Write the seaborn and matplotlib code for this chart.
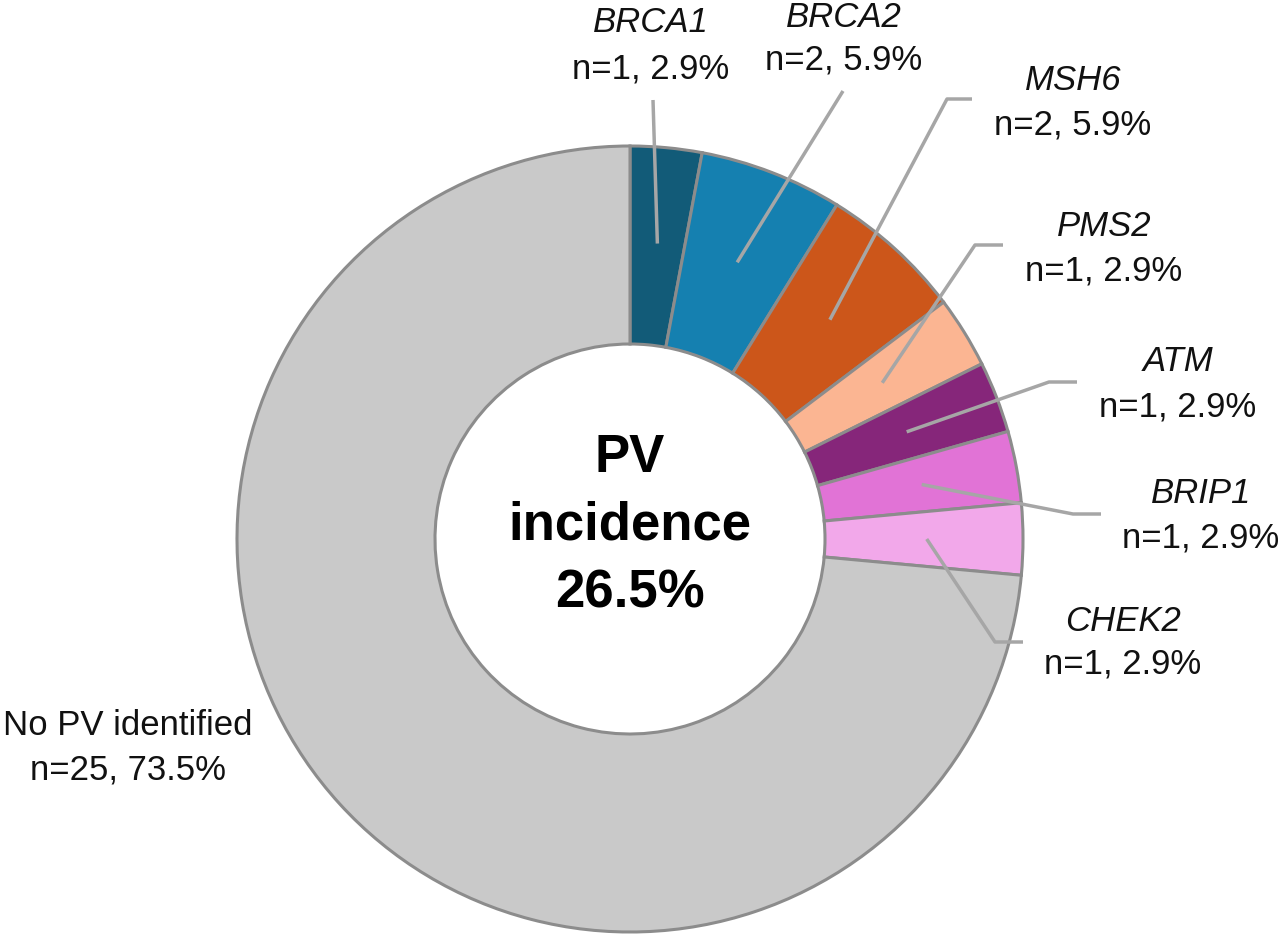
import numpy as np
import seaborn as sns
import matplotlib.pyplot as plt

# data
genes = ['BRCA1', 'BRCA2', 'MSH6', 'PMS2', 'ATM', 'BRIP1', 'CHEK2', 'No PV identified']
counts = [1, 2, 2, 1, 1, 1, 1, 25]
percents = ['2.9%', '5.9%', '5.9%', '2.9%', '2.9%', '2.9%', '2.9%', '73.5%']
colors = ['#125b78', '#1580b0', '#cc561a', '#fbb592', '#86267a', '#e173d6', '#f2a8ea', '#c9c9c9']
center_lines = ['PV', 'incidence', '26.5%']

# layout in pixels (y measured from top)
W, H = 1280, 938
CX, CY = 630, 539
R_OUT, R_IN = 393, 195
# text centre x, baseline of name line, baseline of count line
label_pos = [(651, 32, 78), (844, 27, 69), (1073, 90, 134), (1104, 236, 280),
             (1178, 371, 416), (1201, 503, 547), (1123, 631, 674), (128, 735, 780)]
# leader elbow and end points (None = no line)
leader_pts = [[(653, 100)], [(843, 91)], [(947, 99), (972, 99)], [(975, 245), (1003, 245)],
              [(1049, 382), (1077, 382)], [(1073, 514), (1101, 514)], [(995, 642), (1023, 642)], None]


def fy(y):
    return H - y


sns.set_theme(style='white')
plt.rcParams['font.family'] = ['Liberation Sans', 'DejaVu Sans']

fig = plt.figure(figsize=(W / 100, H / 100), dpi=100)
ax = fig.add_axes([0, 0, 1, 1])

wedges, _ = ax.pie(counts, colors=colors, startangle=90, counterclock=False,
                   radius=R_OUT, center=(CX, fy(CY)),
                   wedgeprops=dict(width=R_OUT - R_IN, edgecolor='#8c8c8c', linewidth=2.2))

ax.set_xlim(0, W)
ax.set_ylim(0, H)
ax.set_aspect('equal')
ax.axis('off')

r_start = 0.755 * R_OUT
for i, w in enumerate(wedges):
    pts = leader_pts[i]
    if pts is not None:
        mid = np.deg2rad((w.theta1 + w.theta2) / 2)
        xs = [CX + r_start * np.cos(mid)] + [p[0] for p in pts]
        ys = [fy(CY) + r_start * np.sin(mid)] + [fy(p[1]) for p in pts]
        ax.plot(xs, ys, color='#a6a6a6', lw=2.5, solid_capstyle='butt', zorder=5)

    tx, b1, b2 = label_pos[i]
    style = 'normal' if i == len(genes) - 1 else 'italic'
    ax.text(tx, fy(b1), genes[i], ha='center', va='baseline', fontsize=25,
            fontstyle=style, color='#111111')
    ax.text(tx, fy(b2), f'n={counts[i]}, {percents[i]}', ha='center', va='baseline',
            fontsize=25, color='#111111')

for line, base in zip(center_lines, [472, 540, 607]):
    ax.text(CX, fy(base), line, ha='center', va='baseline', fontsize=38,
            fontweight='bold', color='black')

fig.savefig('out.png', dpi=100, facecolor='white')
